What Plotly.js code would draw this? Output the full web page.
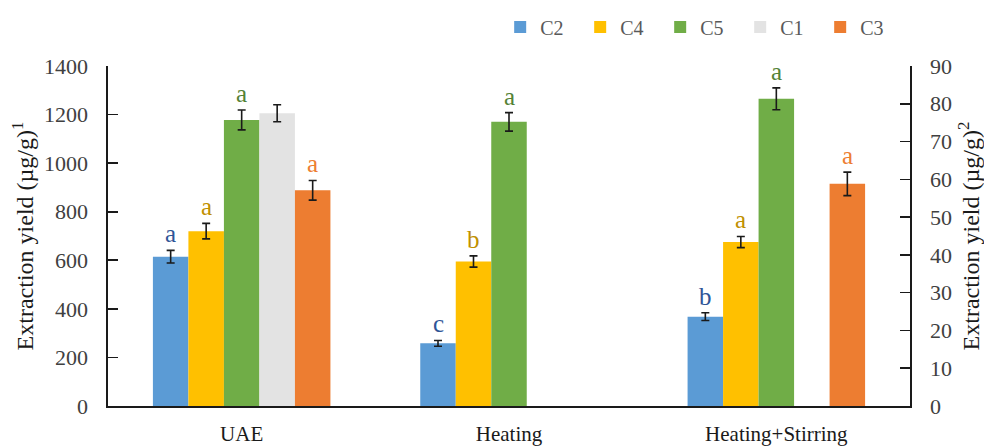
<!DOCTYPE html>
<html>
<head>
<meta charset="utf-8">
<script src="https://cdn.plot.ly/plotly-3.0.1.min.js"></script>
<style>
  html, body { margin: 0; padding: 0; background: #ffffff; }
  #chart { width: 984px; height: 448px; }
</style>
</head>
<body>
<div id="chart"></div>
<script>
// Extraction methods on the category axis
const methods = ["UAE", "Heating", "Heating+Stirring"];

// Compounds on the left axis (µg/g)¹
const c2 = [615, 258, 368];
const c2Err = [26, 12, 16];
const c2Sig = ["a", "c", "b"];

const c4 = [720, 595, 675];
const c4Err = [32, 23, 23];
const c4Sig = ["a", "b", "a"];

const c5 = [1178, 1170, 1265];
const c5Err = [41, 38, 45];
const c5Sig = ["a", "a", "a"];

// Compounds on the right axis (µg/g)²
const c1 = [77.5, null, null];
const c1Err = [2.25, 0, 0];
const c1Sig = ["", "", ""];

const c3 = [57.1, null, 58.8];
const c3Err = [2.6, 0, 3.1];
const c3Sig = ["a", "", "a"];

const FONT = "Liberation Serif";
const barW = 0.1328;

const series = [
  {name: "C2", y: c2, err: c2Err, sig: c2Sig, color: "#5B9BD5", sigColor: "#2F5597", axis: "y",  slot: 0},
  {name: "C4", y: c4, err: c4Err, sig: c4Sig, color: "#FFC000", sigColor: "#BF9000", axis: "y",  slot: 1},
  {name: "C5", y: c5, err: c5Err, sig: c5Sig, color: "#70AD47", sigColor: "#548235", axis: "y",  slot: 2},
  {name: "C1", y: c1, err: c1Err, sig: c1Sig, color: "#E3E3E3", sigColor: "#A6A6A6", axis: "y2", slot: 3},
  {name: "C3", y: c3, err: c3Err, sig: c3Sig, color: "#ED7D31", sigColor: "#ED7D31", axis: "y2", slot: 4}
];

const traces = series.map(s => ({
  type: "bar",
  name: s.name,
  x: methods,
  y: s.y,
  yaxis: s.axis,
  width: barW,
  offset: -2.5 * barW + s.slot * barW,
  marker: {color: s.color, line: {width: 0}},
  error_y: {type: "data", array: s.err, visible: true, color: "#1a1a1a", thickness: 1.6, width: 4}
}));

// Significance letters placed above each error bar
const annotations = [];
series.forEach(s => {
  methods.forEach((m, i) => {
    if (s.y[i] === null || !s.sig[i]) return;
    annotations.push({
      x: i - 2 * barW + s.slot * barW,
      xref: "x",
      y: s.y[i] + s.err[i],
      yref: s.axis,
      text: s.sig[i],
      showarrow: false,
      yanchor: "bottom",
      yshift: 1,
      font: {family: FONT, size: 25, color: s.sigColor}
    });
  });
});

const layout = {
  width: 984,
  height: 448,
  font: {family: FONT},
  margin: {l: 108, r: 74, t: 66, b: 42, autoexpand: false},
  paper_bgcolor: "#ffffff",
  plot_bgcolor: "#ffffff",
  showlegend: true,
  legend: {
    orientation: "h",
    x: 0.489, xref: "paper", xanchor: "left",
    y: 1.115, yanchor: "middle",
    font: {family: FONT, size: 20, color: "#595959"},
    entrywidth: 35, entrywidthmode: "pixels",
    itemwidth: 30,
    traceorder: "normal"
  },
  xaxis: {
    type: "category",
    range: [-0.5, 2.5],
    showline: true, linecolor: "#1a1a1a", linewidth: 1.6,
    ticks: "", showgrid: false, zeroline: false,
    ticklabelstandoff: 8,
    tickfont: {family: FONT, size: 21, color: "#1a1a1a"}
  },
  yaxis: {
    range: [0, 1400],
    tickvals: [0, 200, 400, 600, 800, 1000, 1200, 1400],
    showline: true, linecolor: "#1a1a1a", linewidth: 1.6,
    ticks: "inside", ticklen: 10, tickcolor: "#1a1a1a", tickwidth: 1.6,
    showgrid: false, zeroline: false,
    ticklabelstandoff: 14,
    tickfont: {family: FONT, size: 22, color: "#404040"},
    title: {text: "Extraction yield (µg/g)<sup>1</sup>", font: {family: FONT, size: 24, color: "#1a1a1a"}, standoff: 3}
  },
  yaxis2: {
    overlaying: "y",
    side: "right",
    range: [0, 90],
    tickvals: [0, 10, 20, 30, 40, 50, 60, 70, 80, 90],
    showline: true, linecolor: "#1a1a1a", linewidth: 1.6,
    ticks: "inside", ticklen: 10, tickcolor: "#1a1a1a", tickwidth: 1.6,
    showgrid: false, zeroline: false,
    ticklabelstandoff: 14,
    tickfont: {family: FONT, size: 22, color: "#404040"},
    title: {text: "Extraction yield (µg/g)<sup>2</sup>", font: {family: FONT, size: 24, color: "#1a1a1a"}, standoff: 12}
  },
  annotations: annotations
};

Plotly.newPlot("chart", traces, layout, {displayModeBar: false, staticPlot: true});
</script>
</body>
</html>
